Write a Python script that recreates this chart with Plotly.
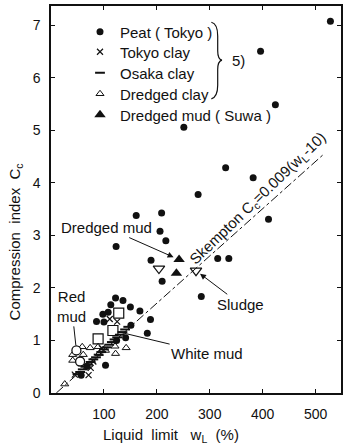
import plotly.graph_objects as go

# Liquid limit wL (%) and compression index Cc for each soil group
peat_wl = [528, 396, 424, 251, 330, 382, 278, 411, 161, 209, 206, 217, 123, 189, 315, 336, 210, 284,
           188, 182, 122, 136, 113, 150, 168, 98, 108, 86, 100, 151, 141, 124, 103, 68, 57]
peat_cc = [7.08, 6.51, 5.49, 5.06, 4.29, 4.10, 3.78, 3.31, 3.38, 3.43, 3.08, 2.90, 2.79, 2.53, 2.56, 2.56,
           2.13, 1.84, 1.40, 1.14, 1.81, 1.76, 1.68, 1.64, 1.56, 1.50, 1.54, 1.36, 1.35, 1.29, 1.05, 1.00,
           0.53, 0.51, 0.34]

tokyo_wl = [45, 71, 75, 80, 96, 111, 125]
tokyo_cc = [0.35, 0.34, 0.48, 0.60, 0.85, 1.41, 1.36]

osaka_wl = [50, 55, 60, 65, 70, 75, 80, 85, 90, 95, 100, 105, 110, 115, 120, 125, 130, 135, 140, 146]
osaka_cc = [0.36, 0.40, 0.45, 0.50, 0.54, 0.59, 0.64, 0.68, 0.73, 0.78, 0.83, 0.87, 0.92, 0.97, 1.02,
            1.06, 1.11, 1.16, 1.21, 1.26]

dclay_wl = [26, 41, 41, 59, 61, 74, 89, 91, 103, 121, 122, 142]
dclay_cc = [0.17, 0.62, 0.73, 0.88, 0.73, 0.86, 0.88, 0.75, 0.81, 0.89, 0.75, 0.86]

suwa_wl = [242, 237]
suwa_cc = [2.54, 2.28]

# open down-triangles: dredged mud, sludge
other_wl = [204, 274]
other_cc = [2.37, 2.33]

white_wl = [128, 117, 89]
white_cc = [1.52, 1.19, 1.03]

red_wl = [48, 55]
red_cc = [0.81, 0.60]

# Skempton relation Cc = 0.009 (wL - 10)
skem_wl = [10, 515]
skem_cc = [0.009 * (w - 10) for w in skem_wl]

FONT = "Liberation Sans"
INK = "#111111"

fig = go.Figure()

fig.add_trace(go.Scatter(x=skem_wl, y=skem_cc, mode="lines", showlegend=False,
                         line=dict(color=INK, width=1, dash="dashdot")))
fig.add_trace(go.Scatter(x=peat_wl, y=peat_cc, mode="markers", name="Peat ( Tokyo )", legend="legend",
                         marker=dict(symbol="circle", size=7, color=INK)))
fig.add_trace(go.Scatter(x=tokyo_wl, y=tokyo_cc, mode="markers", name="Tokyo clay", legend="legend2",
                         marker=dict(symbol="x-thin", size=6, line=dict(color=INK, width=1.2))))
fig.add_trace(go.Scatter(x=osaka_wl, y=osaka_cc, mode="markers", name="Osaka clay", legend="legend3",
                         marker=dict(symbol="line-ew", size=7, line=dict(color=INK, width=2))))
fig.add_trace(go.Scatter(x=dclay_wl, y=dclay_cc, mode="markers", name="Dredged clay", legend="legend4",
                         marker=dict(symbol="triangle-up-open", size=7, color=INK,
                                     line=dict(color=INK, width=1))))
fig.add_trace(go.Scatter(x=suwa_wl, y=suwa_cc, mode="markers", name="Dredged mud ( Suwa )",
                         legend="legend5", marker=dict(symbol="triangle-up", size=10, color=INK)))
fig.add_trace(go.Scatter(x=other_wl, y=other_cc, mode="markers", showlegend=False,
                         marker=dict(symbol="triangle-down-open", size=10, color=INK,
                                     line=dict(color=INK, width=1.2))))
fig.add_trace(go.Scatter(x=white_wl, y=white_cc, mode="markers", showlegend=False,
                         marker=dict(symbol="square-open", size=10, color=INK,
                                     line=dict(color=INK, width=1.2))))
fig.add_trace(go.Scatter(x=red_wl, y=red_cc, mode="markers", showlegend=False,
                         marker=dict(symbol="circle", size=9, color="white",
                                     line=dict(color=INK, width=1.3))))

ann_font = dict(family=FONT, size=15, color=INK)
annotations = [
    dict(x=48, y=0.81, ax=39, ay=1.65, axref="x", ayref="y", text="Red<br>mud",
         showarrow=True, arrowhead=0, arrowwidth=1, arrowcolor=INK, standoff=5, font=ann_font),
    dict(x=242, y=2.54, ax=105, ay=3.15, axref="x", ayref="y", text="Dredged mud",
         showarrow=True, arrowhead=2, arrowsize=1.2, arrowwidth=1, arrowcolor=INK, standoff=6,
         font=ann_font),
    dict(x=274, y=2.33, ax=358, ay=1.69, axref="x", ayref="y", text="Sludge",
         showarrow=True, arrowhead=2, arrowsize=1.2, arrowwidth=1, arrowcolor=INK, standoff=5,
         font=ann_font),
    dict(x=117, y=1.19, ax=295, ay=0.76, axref="x", ayref="y", text="White mud",
         showarrow=True, arrowhead=0, arrowwidth=1, arrowcolor=INK, standoff=6, font=ann_font),
    dict(x=392, y=3.70, text="Skempton C<sub>c</sub>=0.009(w<sub>L</sub>-10)", showarrow=False,
         textangle=-44, font=dict(family=FONT, size=15, color=INK)),
    dict(x=338, y=6.34, text="5)", showarrow=False, xanchor="left",
         font=dict(family=FONT, size=15, color=INK)),
    # axis titles
    dict(x=-0.123, y=0.39, xref="paper", yref="paper", xanchor="center", yanchor="middle",
         text="Compression  index  C<sub>c</sub>", textangle=-90, showarrow=False,
         font=dict(family=FONT, size=15, color=INK)),
    dict(x=0.414, y=-0.109, xref="paper", yref="paper", xanchor="center", yanchor="middle",
         text="Liquid  limit   w<sub>L</sub>  (%)", showarrow=False,
         font=dict(family=FONT, size=15, color=INK)),
]

# curly brace grouping the first four legend entries
brace = ("M 303,7.06 Q 315,7.03 315,6.80 L 315,6.52 Q 315,6.36 323,6.34 "
         "Q 315,6.32 315,6.16 L 315,5.86 Q 315,5.64 303,5.60")

# one single-entry legend per row, so the row spacing can be set freely
row_px = [32, 52, 73, 94, 115]
legend_style = dict(x=0.10, xanchor="left", yanchor="middle", bgcolor="rgba(0,0,0,0)",
                    font=dict(family=FONT, size=15, color=INK), itemsizing="trace")
legends = {}
for i, r in enumerate(row_px):
    key = "legend" if i == 0 else f"legend{i + 1}"
    legends[key] = dict(legend_style, y=(393 - r) / 387)

fig.update_layout(
    width=343, height=445,
    margin=dict(l=51, r=0, t=6, b=52),
    paper_bgcolor="white", plot_bgcolor="white",
    font=dict(family=FONT, size=14, color=INK),
    showlegend=True,
    annotations=annotations,
    shapes=[dict(type="path", path=brace, xref="x", yref="y",
                 line=dict(color=INK, width=1.2))],
    **legends,
)

fig.update_xaxes(range=[0, 548], tickvals=[100, 200, 300, 400, 500], ticks="inside", ticklen=4,
                 tickcolor=INK, showline=True, linecolor=INK, linewidth=1.5, mirror="ticks",
                 showgrid=False, zeroline=False, ticklabelstandoff=7,
                 tickfont=dict(family=FONT, size=14, color=INK))
fig.update_yaxes(range=[0, 7.37], tickvals=[0, 1, 2, 3, 4, 5, 6, 7], ticks="inside", ticklen=4,
                 tickcolor=INK, showline=True, linecolor=INK, linewidth=1.5, mirror="ticks",
                 showgrid=False, zeroline=False, ticklabelstandoff=6,
                 tickfont=dict(family=FONT, size=14, color=INK))

fig.write_html("out.html")
